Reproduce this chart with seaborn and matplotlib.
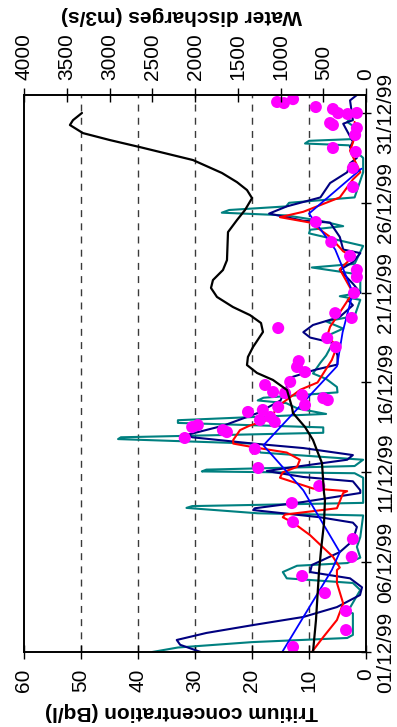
import matplotlib
matplotlib.use("Agg")
import matplotlib.pyplot as plt
import seaborn as sns

sns.set_theme(style="white")
plt.rcParams["font.family"] = ["Liberation Sans", "DejaVu Sans"]
plt.rcParams["text.color"] = "black"
plt.rcParams["xtick.color"] = "black"
plt.rcParams["ytick.color"] = "black"

# Days counted from 01/12/99 00:00
date_ticks = [0, 5, 10, 15, 20, 25, 30]
date_labels = ["01/12/99", "06/12/99", "11/12/99", "16/12/99",
               "21/12/99", "26/12/99", "31/12/99"]
tritium_ticks = [0, 10, 20, 30, 40, 50, 60]
discharge_ticks = [0, 500, 1000, 1500, 2000, 2500, 3000, 3500, 4000]

# Water discharge (m3/s)
discharge_day = [0, 1.78, 4.45, 5.68, 7.18, 8.46, 8.85, 10.52, 11.07, 11.80,
                 12.52, 13.30, 13.63, 14.58, 15.14, 15.53, 15.97, 16.42, 16.97,
                 17.81, 18.31, 18.75, 19.20, 19.76, 20.26, 20.70, 21.26, 21.81,
                 23.37, 24.04, 24.60, 25.26, 25.71, 26.15, 26.66, 27.38, 28.10,
                 28.49, 28.88, 29.33, 29.60, 30.0]
discharge = [620, 585, 550, 526, 491, 480, 491, 515, 561, 620, 713, 854, 866,
             924, 1088, 1275, 1392, 1381, 1322, 1205, 1228, 1357, 1556, 1743,
             1813, 1790, 1673, 1626, 1614, 1509, 1415, 1333, 1392, 1509, 1685,
             2024, 2644, 2994, 3311, 3463, 3427, 3322]

# Continuous tritium record (Bq/l)
teal_day = [0.00, 0.25, 0.55, 0.78, 0.95, 2.15, 2.25, 3.45, 3.84, 4.10, 4.45,
            4.80, 4.95, 5.25, 5.85, 6.40, 7.60, 7.72, 8.02, 8.12, 8.30, 9.70,
            9.95, 10.05, 10.15, 10.35, 10.70, 11.10, 11.60, 11.85, 11.95, 12.20,
            12.50, 12.75, 12.90, 13.25, 13.55, 13.85, 14.00, 14.15, 14.45, 14.75,
            15.20, 15.50, 16.10, 16.50, 17.20, 17.50, 18.00, 18.40, 18.70, 19.60,
            19.80, 20.00, 21.00, 21.40, 21.60, 22.60, 23.30, 23.50, 23.70, 24.00,
            24.30, 24.45, 24.60, 24.80, 25.00, 25.30, 26.70, 27.50, 28.20, 28.30,
            28.45, 28.55, 29.00, 29.50, 30.00]
teal_T = [37.5, 33, 20, 3.3, 2.3, 2.3, 3.2, 1.0, 2.3, 13.9, 14.6, 12.1, 3.3,
          1.0, 1.6, 1.0, 0.5, 19, 31.5, 30.5, 0.5, 0.5, 2, 28.8, 28, 2, 0.5,
          18.5, 20, 43.5, 43, 7.5, 7.5, 33, 33, 7, 12, 14, 19, 18, 5, 5.1, 7,
          9.3, 8, 7, 5.8, 7.5, 4, 7, 2, 1, 4.6, 1, 1, 9.5, 2, 0.5, 10, 9.8, 4,
          8, 14, 25.3, 24, 14, 13.5, 2, 0.5, 0.5, 3, 10.7, 10, 2, 1, 3.3, 2]

# Model run 1
navy_day = [0.0, 0.4, 0.67, 1.06, 1.5, 1.95, 2.5, 3.17, 3.6, 4.1, 4.45, 4.84,
            5.56, 6.2, 6.96, 7.2, 7.5, 7.9, 8.0, 8.35, 8.85, 9.0, 9.5, 9.74,
            10.07, 10.24, 10.7, 10.96, 11.35, 11.6, 11.95, 12.1, 12.6, 13.3,
            14.0, 14.7, 15.3, 15.7, 16.0, 16.5, 17.2, 17.5, 17.8, 18.2, 18.65,
            19.3, 19.6, 20.0, 20.5, 21.26, 21.7, 22.2, 22.4, 23.1, 23.9, 24.0,
            24.4, 24.8, 25.3, 26.1, 26.7, 27.2, 27.5, 28.1, 28.4, 29.4, 29.6,
            30.7, 31.0]
navy_T = [29, 32.6, 33.2, 28, 19.8, 11, 5.1, 1.05, 0.7, 2.8, 9.8, 9.5, 4.6,
          2.3, 1.6, 2.3, 8.1, 19.8, 19.5, 11, 1.0, 1.0, 2.3, 11, 17.4, 13.9,
          3.3, 2.3, 11, 19.8, 30.5, 31.2, 25, 19, 15, 14, 13, 9, 5, 5, 5.8,
          9.8, 11, 9.3, 4.6, 2.3, 3.2, 1.0, 2.3, 4.6, 2.3, 1.0, 4.0, 4.6, 6.3,
          11, 17, 13.9, 8, 6.3, 3.3, 2.8, 1.6, 2.8, 2.3, 4.0, 2.3, 2.8, 1.6]

# Model run 2
red_day = [0.0, 0.83, 1.78, 2.7, 3.84, 4.56, 4.7, 5.3, 6.5, 7.2, 7.5, 7.65,
           8.0, 8.85, 8.95, 9.1, 9.7, 10.0, 10.3, 10.7, 11.1, 11.4, 11.6, 11.8,
           12.35, 12.6, 12.9, 13.9, 14.6, 15.0, 16.25, 17.0, 17.6, 18.1, 18.9,
           20.0, 21.3, 22.0, 22.3, 23.1, 23.9, 24.2, 24.5, 25.3, 26.3, 26.7,
           27.9, 29.0, 29.5]
red_T = [9.5, 7.5, 5.1, 4.0, 5.1, 5.1, 4.6, 5.8, 9.8, 12.8, 14.6, 14.2, 5.1,
         4.0, 3.3, 9.3, 15.1, 14.6, 12.1, 11.6, 13.9, 19.8, 23.3, 23.3, 22.1,
         20.4, 17.4, 14.5, 11.5, 8.5, 6.0, 5.1, 6.8, 6.3, 4.6, 2.3, 4.6, 2.3,
         4.0, 6.3, 9.8, 15.1, 11, 4.6, 2.3, 1.0, 2.8, 1.6, 2.0]

# Model run 3
blue_day = [0.0, 4.56, 5.56, 9.0, 11.5, 15.9, 17.8, 20.0, 22.4, 24.4, 26.9]
blue_T = [14.7, 6.0, 4.6, 11, 18, 5.1, 4.1, 2.3, 5.4, 10.0, 0.8]

# Grab samples
dot_day = [30.77, 30.61, 30.55, 30.33, 30.22, 29.99, 29.94, 30.0, 29.44, 29.33,
           29.16, 28.77, 28.05, 27.83, 26.94, 25.88, 23.93, 22.82, 22.04, 21.26,
           20.87, 19.98, 18.86, 18.59, 18.03, 17.47, 16.97, 16.19, 15.86, 15.58,
           15.03, 14.86, 14.47, 14.41, 14.30, 14.13, 14.02, 13.74, 13.63, 13.47,
           13.36, 13.08, 12.80, 12.91, 12.52, 12.63, 11.91, 12.35, 12.24, 11.30,
           10.24, 9.24, 8.29, 7.23, 6.29, 5.29, 4.23, 3.28, 2.28, 1.22, 0.28]
dot_T = [12.8, 15.6, 14.4, 8.8, 5.8, 4.9, 3.2, 1.6, 6.3, 5.8, 1.6, 1.9, 5.8,
         1.8, 2.3, 2.3, 8.8, 6.1, 2.8, 1.6, 1.6, 2.1, 5.4, 2.5, 15.4, 6.8, 5.3,
         11.8, 12.1, 10.7, 13.3, 17.7, 16.3, 14.2, 11.2, 7.5, 6.7, 10.7, 15.4,
         18.1, 20.7, 16.8, 16.0, 18.6, 30.5, 29.5, 31.8, 25.1, 24.4, 19.5, 18.9,
         8.2, 13.0, 12.8, 2.3, 2.5, 11.2, 7.2, 3.5, 3.5, 12.8]

W, H = 397, 727
fig = plt.figure(figsize=(W / 100, H / 100), dpi=100)
fig.patch.set_facecolor("white")
x0, x1, y_top, y_bot = 24, 366, 95, 652
ax = fig.add_axes([x0 / W, 1 - y_bot / H, (x1 - x0) / W, (y_bot - y_top) / H])
ax.set_facecolor("white")

for g in [10, 20, 30, 40, 50]:
    ax.axvline(g, color="#3a3a3a", lw=1.0, ls=(0, (5, 4.5)), zorder=0.5)

line_kw = dict(orient="y", sort=False, estimator=None, ax=ax, legend=False)
sns.lineplot(x=teal_T, y=teal_day, color="#008080", lw=1.5, **line_kw)
sns.lineplot(x=navy_T, y=navy_day, color="#000080", lw=1.5, **line_kw)
sns.lineplot(x=red_T, y=red_day, color="#FF0000", lw=1.5, **line_kw)
sns.lineplot(x=blue_T, y=blue_day, color="#0000FF", lw=1.3, **line_kw)
sns.scatterplot(x=dot_T, y=dot_day, color="#FF00FF", s=75, edgecolor="none",
                zorder=5, ax=ax, legend=False)

ax.set_xlim(60, 0)
ax.set_ylim(0, 31)
ax.set_xticks(tritium_ticks)
ax.set_xticklabels([str(t) for t in tritium_ticks])
ax.tick_params(axis="x", direction="inout", length=10, width=1, pad=7,
               labelsize=15, labelrotation=90)
ax.yaxis.tick_right()
ax.set_yticks(date_ticks)
ax.set_yticklabels(date_labels, rotation=90, va="center")
ax.tick_params(axis="y", direction="inout", length=7, width=1, pad=4,
               labelsize=15, left=False, right=True)
ax.set_xlabel("")
ax.set_ylabel("")

ax2 = ax.twiny()
sns.lineplot(x=discharge, y=discharge_day, orient="y", sort=False,
             estimator=None, color="black", lw=1.6, ax=ax2, legend=False)
ax2.set_xlim(4000, 0)
ax2.set_ylim(0, 31)
ax2.set_xticks(discharge_ticks)
ax2.set_xticklabels([str(t) for t in discharge_ticks])
ax2.tick_params(axis="x", direction="inout", length=10, width=1, pad=6,
                labelsize=15, labelrotation=90)
ax2.set_xlabel("")
ax2.set_ylabel("")

for a in (ax, ax2):
    for s in a.spines.values():
        s.set_visible(True)
        s.set_color("black")
        s.set_linewidth(1.2)

fig.text(181 / W, 1 - 712 / H, "Tritium concentration (Bq/l)", rotation=180,
         ha="center", va="center", fontsize=15, fontweight="bold")
fig.text(181 / W, 1 - 15 / H, "Water discharges (m3/s)", rotation=180,
         ha="center", va="center", fontsize=15, fontweight="bold")

fig.savefig("out.png", dpi=100)
